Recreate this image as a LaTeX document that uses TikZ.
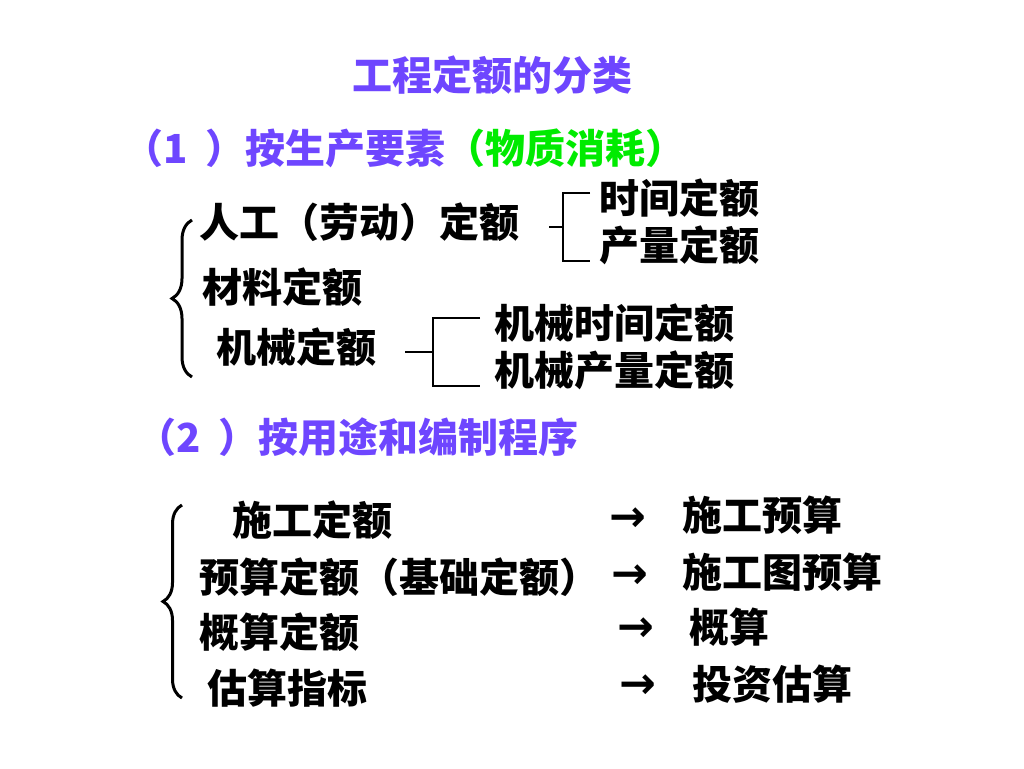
\documentclass[tikz,border=0pt]{standalone}
\usepackage{fontspec}
\usetikzlibrary{positioning,decorations.pathreplacing}
\newfontfamily\cjk{Noto Sans CJK SC}
\newfontfamily\arrowfont{DejaVu Sans}
\definecolor{headpurple}{RGB}{110,70,255}
\definecolor{headgreen}{RGB}{0,235,0}
\tikzset{
  txt/.style={inner sep=0pt, anchor=west, font=\cjk\bfseries\fontsize{40}{48}\selectfont},
  head/.style={txt, text=headpurple},
  fork/.style={line width=1.5pt},
  bigbrace/.style={decorate, decoration={brace, amplitude=#1}, line width=3pt},
  arr/.style={inner sep=0pt, anchor=west, font=\arrowfont\bfseries\fontsize{44}{48}\selectfont},
}

\begin{document}
\begin{tikzpicture}[x=1pt, y=-1pt]
  \useasboundingbox (0,0) rectangle (1024,768);
  \node[head] (title) at (352,75) {工程定额的分类};
  \node[head] (part1) at (123,148) {（1\hspace{18pt}）按生产要素\textcolor{headgreen}{（物质消耗）}};

  \node[txt] (rengong) at (199,222) {人工（劳动）定额};
  \node[txt] (cailiao) at (202,287) {材料定额};
  \node[txt] (jixie) at (216,347) {机械定额};
  \node[txt] (shijian) at (599,198) {时间定额};
  \node[txt] (chanliang) at (599,245) {产量定额};
  \node[txt] (jxshijian) at (494,323) {机械时间定额};
  \node[txt] (jxchanliang) at (494,370) {机械产量定额};

  \coordinate (b1top) at (192,220);
  \coordinate (b1bot) at (192,377);
  \draw[bigbrace=20pt] (b1bot) -- (b1top);

  \coordinate (f1) at (563,227);
  \draw[fork] ([xshift=30pt]rengong.east |- f1) -- (f1);
  \draw[fork] ([xshift=-9pt,yshift=5pt]shijian.west) -| (f1)
    |- ([xshift=-9pt,yshift=-16pt]chanliang.west);
  \coordinate (f2) at (433,352);
  \draw[fork] ([xshift=29pt]jixie.east |- f2) -- (f2);
  \draw[fork] ([xshift=-14pt,yshift=5pt]jxshijian.west) -| (f2)
    |- ([xshift=-14pt,yshift=-16pt]jxchanliang.west);

  \node[head] (part2) at (136,437) {（2\hspace{18pt}）按用途和编制程序};

  \node[txt] (shigong) at (232,520) {施工定额};
  \node[txt] (yusuan) at (199,577) {预算定额（基础定额）};
  \node[txt] (gaisuan) at (199,632) {概算定额};
  \node[txt] (gusuan) at (207,688) {估算指标};

  \coordinate (b2top) at (182,505);
  \coordinate (b2bot) at (182,698);
  \draw[bigbrace=19pt] (b2bot) -- (b2top);

  \node[arr] (a1) at (609,520) {→};
  \node[arr] (a2) at (611,577) {→};
  \node[arr] (a3) at (617,630) {→};
  \node[arr] (a4) at (619,687) {→};
  \node[txt] (sgys) at (682,515) {施工预算};
  \node[txt] (sgtys) at (682,572) {施工图预算};
  \node[txt] (gs) at (689,627) {概算};
  \node[txt] (tzgs) at (692,684) {投资估算};
\end{tikzpicture}
\end{document}
